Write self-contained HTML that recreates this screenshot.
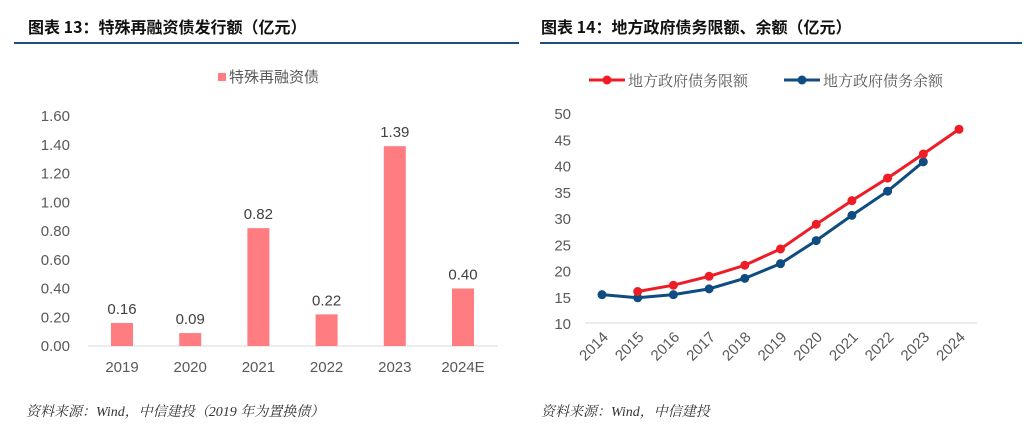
<!DOCTYPE html>
<html><head><meta charset="utf-8"><style>
body{margin:0;background:#fff;width:1024px;height:443px;overflow:hidden;font-family:"Liberation Sans","Noto Sans CJK SC",sans-serif;}
svg{position:absolute;left:0;top:0}
</style></head><body>
<svg width="1024" height="443">
<text x="28" y="33" font-size="16" font-weight="bold" fill="#111" font-family="'Noto Sans CJK SC',sans-serif">图表 13：特殊再融资债发行额（亿元）</text>
<line x1="14" y1="43" x2="519" y2="43" stroke="#1f4e79" stroke-width="2"/>
<text x="541" y="33" font-size="16" font-weight="bold" fill="#111" font-family="'Noto Sans CJK SC',sans-serif">图表 14：地方政府债务限额、余额（亿元）</text>
<line x1="540" y1="43" x2="1022" y2="43" stroke="#1f4e79" stroke-width="2"/>
<rect x="218" y="73" width="8" height="8" fill="#ff7c80"/>
<text x="229" y="82" font-size="15" fill="#595959">特殊再融资债</text>
<g id="bars"></g>
<g id="lines"></g>
<text x="26" y="416" font-size="14" font-style="italic" fill="#333" font-family="'Liberation Serif','Noto Serif CJK SC',serif">资料来源：Wind，中信建投（2019 年为置换债）</text>
<text x="541" y="416" font-size="14" font-style="italic" fill="#333" font-family="'Liberation Serif','Noto Serif CJK SC',serif">资料来源：Wind，中信建投</text>
</svg>
<script>
const barCats=["2019","2020","2021","2022","2023","2024E"];
const barVals=[0.16,0.09,0.82,0.22,1.39,0.40];
const barTicks=["0.00","0.20","0.40","0.60","0.80","1.00","1.20","1.40","1.60"];
const lineCats=["2014","2015","2016","2017","2018","2019","2020","2021","2022","2023","2024"];
const limitVals=[null,16.0,17.2,18.9,21.0,24.1,28.8,33.3,37.6,42.2,46.9];
const balanceVals=[15.4,14.8,15.4,16.5,18.5,21.3,25.7,30.5,35.1,40.7,null];
const lineTicks=[10,15,20,25,30,35,40,45,50];
const NS="http://www.w3.org/2000/svg";
function mk(p,t,a){const e=document.createElementNS(NS,t);for(const k in a)e.setAttribute(k,a[k]);p.appendChild(e);return e;}
const bg=document.getElementById('bars');
const by=v=>346-v/1.6*230;
const bx=i=>122+i*68.2;
barTicks.forEach(t=>{const e=mk(bg,'text',{x:70,y:by(+t)+5,'font-size':15,fill:'#595959','text-anchor':'end'});e.textContent=t;

});
const ax=mk(bg,'line',{x1:88,y1:346,x2:498,y2:346,stroke:'#d9d9d9','stroke-width':1});


barCats.forEach((c,i)=>{
const r=mk(bg,'rect',{x:bx(i)-11,y:by(barVals[i]),width:22,height:346-by(barVals[i]),fill:'#ff7c80'});


const l=mk(bg,'text',{x:bx(i),y:by(barVals[i])-9,'font-size':15,fill:'#404040','text-anchor':'middle'});l.textContent=barVals[i].toFixed(2);


const x=mk(bg,'text',{x:bx(i),y:372,'font-size':15,fill:'#595959','text-anchor':'middle'});x.textContent=c;


});
const lg=document.getElementById('lines');
const ly=v=>323-(v-10)/40*210;
const lx=i=>602+i*35.7;
lineTicks.forEach(t=>{const e=mk(lg,'text',{x:571,y:ly(t)+6,'font-size':15,fill:'#595959','text-anchor':'end'});e.textContent=t;

});
const ax2=mk(lg,'line',{x1:585,y1:323,x2:977,y2:323,stroke:'#d9d9d9','stroke-width':1});


lineCats.forEach((c,i)=>{const e=mk(lg,'text',{x:lx(i)+7,y:338,'font-size':15,fill:'#595959','text-anchor':'end',transform:`rotate(-45 ${lx(i)+7} 338)`});e.textContent=c;

});
function series(vals,color,name){
let d='';vals.forEach((v,i)=>{if(v==null)return;d+=(d?'L':'M')+lx(i)+' '+ly(v);});
const p=mk(lg,'path',{d:d,fill:'none',stroke:color,'stroke-width':3});


vals.forEach((v,i)=>{if(v==null)return;const c=mk(lg,'circle',{cx:lx(i),cy:ly(v),r:4.5,fill:color});

});
}
series(balanceVals,'#0f4c81','balance');
series(limitVals,'#ee1c25','limit');
[['#ee1c25','地方政府债务限额',589],['#0f4c81','地方政府债务余额',784]].forEach(([col,t,x0],k)=>{
const l=mk(lg,'line',{x1:x0,y1:80,x2:x0+36,y2:80,stroke:col,'stroke-width':3});


const c=mk(lg,'circle',{cx:x0+18,cy:80,r:4.5,fill:col});


const e=mk(lg,'text',{x:x0+39,y:86,'font-size':15,fill:'#595959','font-family':"'Noto Serif CJK SC',serif"});e.textContent=t;


});
</script>
</body></html>
